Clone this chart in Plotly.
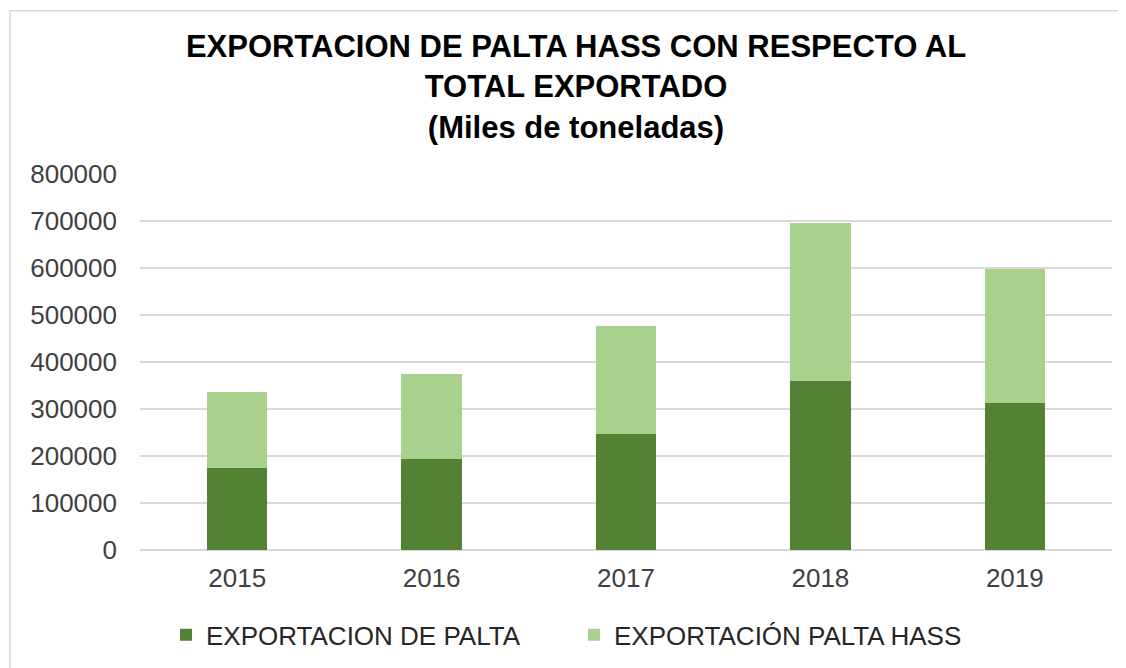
import plotly.graph_objects as go

years = ["2015", "2016", "2017", "2018", "2019"]
exportacion_palta = [174000, 194000, 247000, 359000, 312000]
exportacion_hass = [163000, 180000, 229000, 336000, 285000]
tick_vals = [0, 100000, 200000, 300000, 400000, 500000, 600000, 700000, 800000]
tick_text = ["0", "100000", "200000", "300000", "400000", "500000", "600000", "700000", "800000"]

# page body has an 8px margin; work in reference pixel coords and shift
OFF = 8
W, H = 1126 - OFF, 668 - OFF
L, R = 140 - OFF, W - (1112 - OFF)
T, B = 173.5 - OFF, H - (550 - OFF)
pw, ph = W - L - R, H - T - B

FONT = "Liberation Sans, Arial, sans-serif"


def px_x(x):
    return (x - OFF - L) / pw


def px_y(y):
    return (H - B - (y - OFF)) / ph


fig = go.Figure()
fig.add_trace(go.Bar(x=years, y=exportacion_palta, name="EXPORTACION DE PALTA",
                     marker=dict(color="#548235", line=dict(width=0))))
fig.add_trace(go.Bar(x=years, y=exportacion_hass, name="EXPORTACIÓN PALTA HASS",
                     marker=dict(color="#A9D18E", line=dict(width=0))))

fig.update_layout(
    barmode="stack",
    bargap=0.69,
    width=W, height=H,
    margin=dict(l=L, r=R, t=T, b=B, autoexpand=False),
    paper_bgcolor="white",
    plot_bgcolor="white",
    font=dict(family=FONT, size=26, color="#404040"),
    title=dict(
        text="<b>EXPORTACION DE PALTA HASS CON RESPECTO AL<br>TOTAL EXPORTADO<br>(Miles de toneladas)</b>",
        x=(576 - OFF) / W, xanchor="center", xref="container",
        y=1 - 49 / H, yanchor="top", yref="container",
        font=dict(family=FONT, size=31, color="#000000"),
    ),
    xaxis=dict(showgrid=False, showline=False, ticks="", ticklabelstandoff=10,
               tickfont=dict(size=26, color="#404040")),
    yaxis=dict(range=[0, 800000], tickvals=tick_vals, ticktext=tick_text,
               showgrid=True, gridcolor="#d9d9d9", gridwidth=1.5,
               zeroline=True, zerolinecolor="#d9d9d9", zerolinewidth=1.5,
               showline=False, ticks="", ticklabelstandoff=22,
               tickfont=dict(size=26, color="#404040")),
    legend=dict(orientation="h", x=px_x(166), xanchor="left", y=px_y(635), yanchor="middle",
                entrywidth=363, entrywidthmode="pixels",
                font=dict(size=26, color="#262626"), traceorder="normal"),
    shapes=[dict(type="rect", xref="paper", yref="paper",
                 x0=px_x(10), x1=px_x(1121), y0=px_y(700), y1=px_y(10),
                 line=dict(color="#d9d9d9", width=1.5), fillcolor="rgba(0,0,0,0)", layer="below")],
)

fig.write_html("out.html")
